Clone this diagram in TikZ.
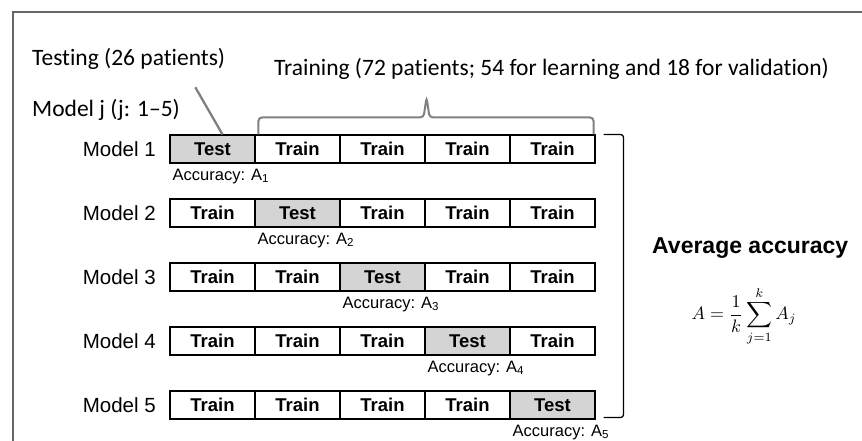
\documentclass[tikz,border=0pt]{standalone}
\usepackage{fontspec}
\setmainfont{Liberation Sans}
\newfontfamily\calfont[Ligatures=NoCommon]{Carlito}
\usepackage{amsmath}
\usetikzlibrary{calc}

\begin{document}
\begin{tikzpicture}[x=1pt, y=-1pt,
  cell/.style={draw, line width=1.1pt, minimum width=85pt, minimum height=28pt, inner sep=0pt,
    font=\fontsize{18.5}{20}\selectfont\bfseries},
  modelname/.style={anchor=east, inner sep=0pt, font=\fontsize{20.5}{22}\selectfont},
  acc/.style={anchor=north west, inner sep=0pt, font=\fontsize{16.5}{18}\selectfont},
  note/.style={anchor=base west, inner sep=0pt, font=\fontsize{23.5}{26}\selectfont\calfont},
  greyline/.style={black!50, line width=2.3pt}]

\useasboundingbox (0,0) rectangle (862,441);

% frame
\draw[line width=1.4pt, black!60] (13,441) -- (13,12) -- (862,12);

% five models, one test fold each
\foreach \i in {1,...,5} {
  \node[modelname] (m\i) at (156,{149+64*(\i-1)}) {Model \i};
  \foreach \j in {1,...,5} {
    \ifnum\i=\j \def\shade{black!17}\def\word{Test}\else \def\shade{white}\def\word{Train}\fi
    \node[cell, fill=\shade] (c\i\j) at ({212.5+85*(\j-1)},{149+64*(\i-1)}) {\word};
  }
  \node[acc] (a\i) at ($(c\i\i.south west)+(3,5)$) {Accuracy: A\textsubscript{\i}};
}

% labels on top
\node[note] (testing) at (32,66) {Testing (26 patients)};
\node[note] (training) at (274,76) {Training (72 patients; 54 for learning and 18 for validation)};
\node[note] (modelj) at (32,117) {Model j (j: 1–5)};

\draw[greyline] ($(testing.south east)+(-30,17)$) -- ($(c11.north)+(10,0)$);

\coordinate (tip) at ($(c13.north east)+(1,-37)$);
\draw[greyline, line width=2pt, rounded corners=3.5pt]
  ($(c12.north west)+(4,0)$) -- ($(c12.north west)+(4,-17)$)
  -- ($(tip)+(-3,20)$) -- (tip) -- ($(tip)+(3,20)$)
  -- ($(c15.north east)+(-2,-17)$) -- ($(c15.north east)+(-2,0)$);

% bracket and result
\draw[line width=1.3pt, rounded corners=3pt]
  ($(c15.north east)+(8,0)$) -- ($(c15.north east)+(28,0)$)
  -- ($(c55.south east)+(28,-2)$) -- ($(c55.south east)+(8,-2)$);

\node[anchor=west, inner sep=0pt, font=\fontsize{23}{25}\selectfont\bfseries] (avg) at (652,248) {Average accuracy};
\node[scale=1.8] (formula) at (744,316) {$\displaystyle A=\frac{1}{k}\sum_{j=1}^{k}A_j$};

\end{tikzpicture}
\end{document}
